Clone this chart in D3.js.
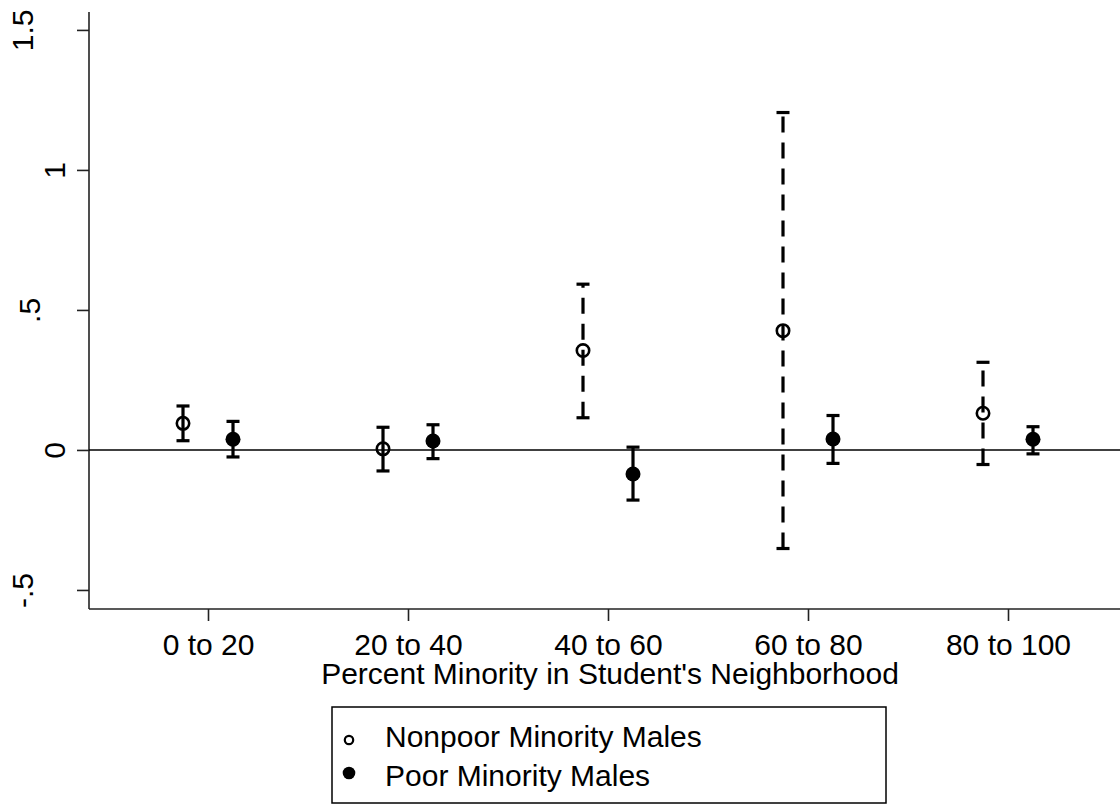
<!DOCTYPE html>
<html>
<head>
<meta charset="utf-8">
<script src="https://cdn.jsdelivr.net/npm/d3@7"></script>
<style>
  html, body { margin: 0; padding: 0; background: #fff; }
  svg { display: block; }
  text { font-family: "Liberation Sans", Arial, sans-serif; fill: #000; }
</style>
</head>
<body>
<div id="chart"></div>
<script>
// values
const categories = ['0 to 20', '20 to 40', '40 to 60', '60 to 80', '80 to 100'];
const catMid = [10, 30, 50, 70, 90];

const nonpoorEst = [0.095, 0.004, 0.355, 0.426, 0.131];
const nonpoorLo  = [0.033, -0.075, 0.115, -0.352, -0.052];
const nonpoorHi  = [0.157, 0.081, 0.592, 1.205, 0.313];
const nonpoorDashed = [false, false, true, true, true];

const poorEst = [0.038, 0.032, -0.086, 0.039, 0.038];
const poorLo  = [-0.025, -0.031, -0.179, -0.048, -0.014];
const poorHi  = [0.102, 0.090, 0.010, 0.123, 0.083];

const yTicks = [-0.5, 0, 0.5, 1, 1.5];
const yTickLabels = ['-.5', '0', '.5', '1', '1.5'];

const seriesNames = ['Nonpoor Minority Males', 'Poor Minority Males'];

const width = 1120, height = 804;
const fontSize = 30;

const svg = d3.select('#chart').append('svg')
  .attr('width', width)
  .attr('height', height);

const x = d3.scaleLinear().domain([-1.9, 101.2]).range([89, 1120]);
const y = d3.scaleLinear().domain([-0.568, 1.564]).range([609, 12]);

// axes
const yAxis = svg.append('g').attr('transform', `translate(${x.range()[0]},0)`)
  .call(d3.axisLeft(y).tickValues(yTicks).tickSize(12).tickFormat((d, i) => yTickLabels[i]));
const xAxis = svg.append('g').attr('transform', `translate(0,${y.range()[0]})`)
  .call(d3.axisBottom(x).tickValues(catMid).tickSize(12).tickFormat((d, i) => categories[i]));

[yAxis, xAxis].forEach(g => {
  g.select('.domain').attr('stroke', '#222').attr('stroke-width', 1.6);
  g.selectAll('.tick line').attr('stroke', '#222').attr('stroke-width', 1.6);
  g.selectAll('.tick text').style('font-size', fontSize + 'px')
    .style('font-family', '"Liberation Sans", Arial, sans-serif').attr('fill', '#000');
});
// x domain path without outer ticks
xAxis.select('.domain').attr('d', `M${x.range()[0]},0H${x.range()[1]}`);
yAxis.select('.domain').attr('d', `M0,${y.range()[0]}V${y.range()[1]}`);

xAxis.selectAll('.tick text').attr('y', 46).attr('dy', 0);

// rotated y labels, Stata-like placement
yAxis.selectAll('.tick text').each(function() {
  const t = d3.select(this);
  const w = this.getComputedTextLength();
  const base = Math.max(-56, -24 - 3 * Math.max(0, w - 16.7));
  t.attr('x', 0).attr('dy', 0).attr('y', 0)
    .attr('text-anchor', 'middle')
    .attr('transform', `translate(${base},0) rotate(-90)`);
});

// zero line
svg.append('line')
  .attr('x1', x.range()[0]).attr('x2', x.range()[1])
  .attr('y1', y(0)).attr('y2', y(0))
  .attr('stroke', '#000').attr('stroke-width', 1.5);

// axis title
svg.append('text')
  .attr('x', 610).attr('y', 684)
  .attr('text-anchor', 'middle')
  .style('font-size', fontSize + 'px')
  .text("Percent Minority in Student's Neighborhood");

const offset = 2.5;
const capW = 6.5;

function drawBars(est, lo, hi, dashed, dx, cls) {
  const g = svg.append('g').attr('class', cls);
  const data = est.map((v, i) => ({ x: catMid[i] + dx, v, lo: lo[i], hi: hi[i], dashed: dashed ? dashed[i] : false }));
  g.selectAll('line.whisker').data(data).join('line')
    .attr('class', 'whisker')
    .attr('x1', d => x(d.x)).attr('x2', d => x(d.x))
    .attr('y1', d => y(d.lo)).attr('y2', d => y(d.hi))
    .attr('stroke', '#000').attr('stroke-width', 3.2)
    .attr('stroke-dasharray', d => d.dashed ? '16,10' : null);
  g.selectAll('line.capHi').data(data).join('line')
    .attr('class', 'capHi')
    .attr('x1', d => x(d.x) - capW).attr('x2', d => x(d.x) + capW)
    .attr('y1', d => y(d.hi)).attr('y2', d => y(d.hi))
    .attr('stroke', '#000').attr('stroke-width', 3.2);
  g.selectAll('line.capLo').data(data).join('line')
    .attr('class', 'capLo')
    .attr('x1', d => x(d.x) - capW).attr('x2', d => x(d.x) + capW)
    .attr('y1', d => y(d.lo)).attr('y2', d => y(d.lo))
    .attr('stroke', '#000').attr('stroke-width', 3.2);
  return { g, data };
}

const np = drawBars(nonpoorEst, nonpoorLo, nonpoorHi, nonpoorDashed, -offset, 'nonpoor');
const pp = drawBars(poorEst, poorLo, poorHi, null, offset, 'poor');

np.g.selectAll('circle').data(np.data).join('circle')
  .attr('cx', d => x(d.x)).attr('cy', d => y(d.v)).attr('r', 6.2)
  .attr('fill', 'none').attr('stroke', '#000').attr('stroke-width', 2.6);
pp.g.selectAll('circle').data(pp.data).join('circle')
  .attr('cx', d => x(d.x)).attr('cy', d => y(d.v)).attr('r', 7.5)
  .attr('fill', '#000');

// legend
const legend = svg.append('g').attr('class', 'legend');
legend.append('rect')
  .attr('x', 332).attr('y', 707).attr('width', 554).attr('height', 96)
  .attr('fill', '#fff').attr('stroke', '#000').attr('stroke-width', 1.5);
const items = legend.selectAll('g.item').data(seriesNames).join('g')
  .attr('class', 'item')
  .attr('transform', (d, i) => `translate(349,${740 + i * 33})`);
items.append('circle')
  .attr('r', (d, i) => i === 0 ? 4.2 : 6.3)
  .attr('fill', (d, i) => i === 0 ? 'none' : '#000')
  .attr('stroke', (d, i) => i === 0 ? '#000' : 'none')
  .attr('stroke-width', 2.2);
items.append('text')
  .attr('x', 36).attr('y', (d, i) => i === 0 ? 7 : 13)
  .style('font-size', fontSize + 'px')
  .text(d => d);
</script>
</body>
</html>
